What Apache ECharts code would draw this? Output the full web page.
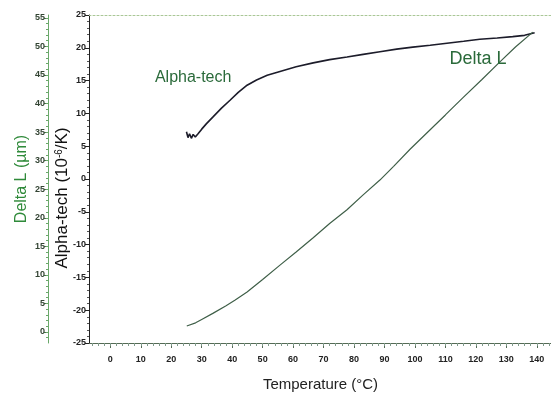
<!DOCTYPE html>
<html><head><meta charset="utf-8">
<script src="https://cdn.jsdelivr.net/npm/echarts@6/dist/echarts.min.js"></script>
<style>html,body{margin:0;padding:0;background:#fff}#c{width:551px;height:394px}</style>
</head><body><div id="c"></div>
<script>
// Data
const alphaTemp = [25.0, 25.5, 26.0, 26.6, 27.2, 27.9, 28.8, 30.0, 31.5, 33.8, 36.5, 39.3, 42.0, 44.9, 48.0, 51.5, 55.7, 61.0, 66.6, 72.0, 77.7, 83.0, 88.5, 94.0, 99.3, 105.0, 110.5, 116.0, 121.3, 127.0, 132.1, 136.0, 139.3];
const alphaVal  = [7.2, 6.3, 6.9, 6.2, 6.8, 6.4, 6.9, 7.6, 8.4, 9.5, 10.8, 12.0, 13.2, 14.3, 15.1, 15.8, 16.4, 17.1, 17.7, 18.2, 18.6, 19.0, 19.4, 19.8, 20.1, 20.4, 20.7, 21.0, 21.3, 21.5, 21.7, 21.9, 22.3];
const deltaTemp = [25.1, 28.0, 30.0, 33.8, 38.0, 41.0, 44.9, 50.0, 55.7, 61.0, 66.6, 72.0, 77.7, 83.0, 88.5, 93.0, 98.4, 105.0, 110.0, 115.7, 122.0, 127.9, 133.0, 138.7];
const deltaVal  = [1.05, 1.6, 2.2, 3.3, 4.6, 5.6, 7.0, 9.2, 11.7, 14.0, 16.5, 19.0, 21.4, 24.0, 26.6, 29.0, 32.0, 35.4, 38.0, 41.0, 44.2, 47.3, 49.9, 52.5];
const xTicks = [0,10,20,30,40,50,60,70,80,90,100,110,120,130,140];
const xMinorTicks = [-6,-4,-2,0,2,4,6,8,10,12,14,16,18,20,22,24,26,28,30,32,34,36,38,40,42,44,46,48,50,52,54,56,58,60,62,64,66,68,70,72,74,76,78,80,82,84,86,88,90,92,94,96,98,100,102,104,106,108,110,112,114,116,118,120,122,124,126,128,130,132,134,136,138,140,142,144];
const dTicks = [0,5,10,15,20,25,30,35,40,45,50,55];
const dMinorTicks = [-1,0,1,2,3,4,5,6,7,8,9,10,11,12,13,14,15,16,17,18,19,20,21,22,23,24,25,26,27,28,29,30,31,32,33,34,35,36,37,38,39,40,41,42,43,44,45,46,47,48,49,50,51,52,53,54,55];
const labelAlpha = {name: 'Alpha-tech', coord: [27.2, 15.4]};
const labelDelta = {name: 'Delta L', coord: [120.7, 18.3]};

const green = '#2f8a3a';
const axisFont = {fontFamily: 'Liberation Sans', fontSize: 9, fontWeight: 'bold'};

const chart = echarts.init(document.getElementById('c'));
chart.setOption({
  animation: false,
  grid: {left: 89, top: 15, width: 463, height: 328, outerBoundsMode: 'none', containLabel: false},
  xAxis: [
    {type: 'value', min: -7, max: 145, position: 'bottom',
     name: 'Temperature (°C)', nameLocation: 'middle', nameGap: 34, nameMoveOverlap: false,
     nameTextStyle: {fontFamily: 'Liberation Sans', fontSize: 15, color: '#222'},
     axisLine: {onZero: false, lineStyle: {color: '#556b55', width: 1}},
     axisTick: {customValues: xTicks, length: 5, lineStyle: {color: '#556b55'}},
     axisLabel: {customValues: xTicks, color: '#222', margin: 12, ...axisFont},
     splitLine: {show: false}},
    {type: 'value', min: -7, max: 145, position: 'bottom',
     axisLine: {show: false, onZero: false},
     axisTick: {customValues: xMinorTicks, length: 3, lineStyle: {color: '#7f9a8a'}},
     axisLabel: {show: false}, splitLine: {show: false}},
    {type: 'value', min: -7, max: 145, position: 'top',
     axisLine: {onZero: false, lineStyle: {color: '#a9c796', type: [2, 2], width: 1}},
     axisTick: {show: false}, axisLabel: {show: false}, splitLine: {show: false}}
  ],
  yAxis: [
    {type: 'value', min: -25, max: 25, interval: 5, position: 'left',
     name: 'Alpha-tech (10{s|-6}/K)', nameLocation: 'middle', nameGap: 18, nameRotate: 90, nameMoveOverlap: false,
     nameTextStyle: {fontFamily: 'Liberation Sans', fontSize: 17, color: '#111', padding: [0, 38, 0, 0],
       rich: {s: {fontSize: 10, verticalAlign: 'top', fontFamily: 'Liberation Sans', color: '#111', padding: [0,0,6,0]}}},
     axisLine: {show: true, onZero: false, lineStyle: {color: '#222'}},
     axisTick: {show: true, length: 4, lineStyle: {color: '#222'}},
     minorTick: {show: true, splitNumber: 5, length: 2, lineStyle: {color: '#555'}},
     axisLabel: {color: '#222', margin: 3, ...axisFont},
     splitLine: {show: false}},
    {type: 'value', min: -1.93, max: 55.5, position: 'left', offset: 41,
     name: 'Delta L (µm)', nameLocation: 'middle', nameGap: 18, nameRotate: 90, nameMoveOverlap: false,
     nameTextStyle: {fontFamily: 'Liberation Sans', fontSize: 16, color: green},
     axisLine: {show: true, onZero: false, lineStyle: {color: '#6aa86a'}},
     axisTick: {show: true, customValues: dTicks, length: 4, lineStyle: {color: '#4a7a4a'}},
     axisLabel: {customValues: dTicks, color: '#334433', margin: 3, ...axisFont},
     splitLine: {show: false}},
    {type: 'value', min: -1.93, max: 55.5, position: 'left', offset: 41,
     axisLine: {show: false, onZero: false},
     axisTick: {show: true, customValues: dMinorTicks, length: 2, lineStyle: {color: '#6aa86a'}},
     axisLabel: {show: false}, splitLine: {show: false}}
  ],
  series: [
    {type: 'line', name: 'Alpha-tech', xAxisIndex: 0, yAxisIndex: 0, showSymbol: false,
     data: alphaTemp.map((t, i) => [t, alphaVal[i]]),
     lineStyle: {color: '#1c1c2a', width: 1.6},
     markPoint: {symbol: 'circle', symbolSize: 0,
       label: {show: true, position: 'inside', formatter: '{b}', color: '#2a6a3a',
         fontFamily: 'Liberation Sans', fontSize: 16},
       data: [labelAlpha, {name: labelDelta.name, coord: labelDelta.coord, label: {fontSize: 18}}]}},
    {type: 'line', name: 'Delta L', xAxisIndex: 0, yAxisIndex: 1, showSymbol: false,
     data: deltaTemp.map((t, i) => [t, deltaVal[i]]),
     lineStyle: {color: '#3f5f48', width: 1.2}}
  ]
});
</script></body></html>
